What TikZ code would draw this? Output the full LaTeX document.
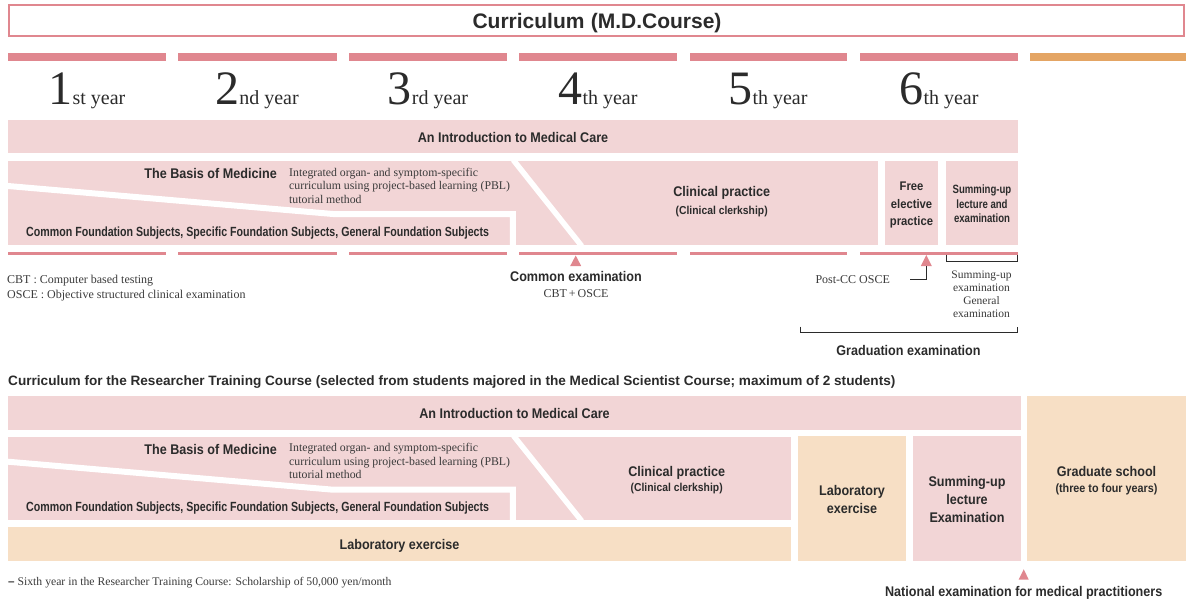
\documentclass[tikz,border=0pt]{standalone}
\usepackage{fontspec}
\setmainfont{Liberation Serif}
\newfontfamily\hn[FakeStretch=0.9]{Liberation Sans}
\newfontfamily\hnc[FakeStretch=0.8]{Liberation Sans}
\newfontfamily\hw{Liberation Sans}
\definecolor{pbar}{HTML}{E0878F}
\definecolor{lpink}{HTML}{F2D5D6}
\definecolor{obar}{HTML}{E4A564}
\definecolor{lorange}{HTML}{F7DFC5}
\definecolor{ink}{HTML}{2B2B2B}
\definecolor{sink}{HTML}{3A3A3A}
\newcommand\rbox[6]{\node[#6,anchor=north west,inner sep=0pt,outer sep=0pt,minimum width={(#4-#2)*1pt},minimum height={(#5-#3)*1pt}] (#1) at (#2,#3) {};}
\tikzset{
  sb/.style={font=\hn\bfseries\fontsize{14}{18}\selectfont, text=ink, inner sep=0pt},
  ssub/.style={font=\hn\bfseries\fontsize{11.5}{13}\selectfont, text=ink, inner sep=0pt},
  sbc/.style={font=\hnc\bfseries\fontsize{13.3}{15}\selectfont, text=ink, inner sep=0pt},
  sfree/.style={font=\hn\bfseries\fontsize{12.5}{17.7}\selectfont, text=ink, inner sep=0pt},
  sumc/.style={font=\hnc\bfseries\fontsize{12}{14.7}\selectfont, text=ink, inner sep=0pt},
  sr/.style={font=\rmfamily\fontsize{12}{15}\selectfont, text=sink, inner sep=0pt},
  srs/.style={font=\rmfamily\fontsize{11.5}{13.3}\selectfont, text=sink, inner sep=0pt},
  sint/.style={font=\rmfamily\fontsize{11.8}{13.5}\selectfont, text=sink, inner sep=0pt},
  yearlab/.style={font=\rmfamily, text=ink, inner sep=0pt, anchor=base},
  gap/.style={white, line width=6pt, line join=miter},
  slant/.style={white, line width=5.5pt},
  tri/.style={fill=pbar},
  conn/.style={draw=ink, line width=0.9pt},
}
\begin{document}
\begin{tikzpicture}[x=1pt,y=-1pt]
\useasboundingbox (0,0) rectangle (1186,603);
% title
\rbox{titlebox}{9.1}{5.1}{1184}{35.6}{draw=pbar,line width=2.2pt,fill=white}
\node[font=\hw\bfseries\fontsize{21}{24}\selectfont, text=ink, inner sep=0pt, anchor=base] (title) at (597,28) {Curriculum\hspace{0.3em}(M.D.Course)};
% year bars
\foreach \i/\a/\b in {1/8/166,2/178/337,3/349/507,4/519/677,5/690/847,6/860/1018} {\rbox{bar\i}{\a}{52.7}{\b}{61}{fill=pbar}}
\rbox{bar7}{1030}{52.7}{1186}{61}{fill=obar}
\foreach \i/\c/\d/\s in {1/87/1/st,2/257/2/nd,3/428/3/rd,4/598/4/th,5/768/5/th,6/939/6/th} {
  \node[yearlab] (year\i) at (\c,104.5) {{\fontsize{48}{48}\selectfont \d}{\fontsize{20}{20}\selectfont \s\ year}};
}
% ---------- upper curriculum ----------
\rbox{intro}{8}{120}{1018}{153.3}{fill=lpink}
\node[sb,anchor=base] (introT) at (513,142) {An Introduction to Medical Care};
\rbox{row}{8}{161}{877.7}{245}{fill=lpink}
\draw[slant] (513.3,160) -- (581.7,246);
\draw[gap] (8,186) -- (333,214) -- (512.8,214) -- (512.8,246);
\node[sb,anchor=base east] (basis) at (277,178.5) {The Basis of Medicine};
\node[sint,anchor=base west,align=left] (integ) at (289,203) {Integrated organ- and symptom-specific\\curriculum using project-based learning (PBL)\\tutorial method};
\node[sbc,anchor=base west] (found) at (26,236) {Common Foundation Subjects, Specific Foundation Subjects, General Foundation Subjects};
\node[sb,anchor=base] (clin) at (721.7,196.5) {Clinical practice};
\node[ssub,anchor=base] (clerk) at (721.7,214) {(Clinical clerkship)};
\rbox{free}{885}{161}{938}{245}{fill=lpink}
\node[sfree,anchor=base,align=center] (freeT) at (911.5,225.9) {Free\\elective\\practice};
\rbox{sum}{946}{161}{1018}{245}{fill=lpink}
\node[sumc,anchor=base,align=center] (sumT) at (982,222.7) {Summing-up\\lecture and\\examination};
% thin lines
\foreach \i/\a/\b in {1/8/166,2/178/337,3/349/507,4/519/677,5/690/847,6/860/1018} {\rbox{tl\i}{\a}{252}{\b}{254.6}{fill=pbar}}
% common examination
\fill[tri] (575.7,255.5) -- (570.2,266) -- (581.2,266) -- cycle;
\node[sb,anchor=base] (cexam) at (576,281.7) {Common examination};
\node[sr,anchor=base] (cbt) at (576,297.5) {CBT\,+\,OSCE};
% post-CC OSCE
\fill[tri] (926.3,255) -- (920.8,266) -- (931.8,266) -- cycle;
\coordinate (pcb) at (926.3,266);
\coordinate (pce) at (910,279.3);
\draw[conn] (pcb) |- (pce);
\node[sr,anchor=base] (postcc) at (852.7,283) {Post-CC OSCE};
% summing-up bracket
\coordinate (brL) at (946.3,254.5);
\coordinate (brR) at (1017.3,254.5);
\draw[conn] (brL) -- ++(0,6.5) -| (brR);
\node[srs,anchor=base,align=center] (sumexam) at (981.5,317.9) {Summing-up\\examination\\General\\examination};
% graduation bracket
\coordinate (gL) at (800,326.7);
\coordinate (gR) at (1017.3,326.7);
\draw[conn] (gL) -- ++(0,6) -| (gR);
\node[sb,anchor=base] (grad) at (908.5,355.7) {Graduation examination};
% legend
\node[sr,anchor=base west,align=left] (legend) at (7,298) {CBT : Computer based testing\\OSCE : Objective structured clinical examination};
% ---------- researcher training course ----------
\node[font=\hw\bfseries\fontsize{13.6}{15}\selectfont, text=ink, inner sep=0pt, anchor=base west] (rtc) at (8,385.5) {Curriculum for the Researcher Training Course (selected from students majored in the Medical Scientist Course; maximum of 2 students)};
\rbox{intro2}{8}{396}{1021}{430}{fill=lpink}
\node[sb,anchor=base] (introT2) at (514.5,418) {An Introduction to Medical Care};
\rbox{row2}{8}{436.7}{791}{520}{fill=lpink}
\draw[slant] (513.5,435.7) -- (581.7,521);
\draw[gap] (8,461.7) -- (333,489.7) -- (512.8,489.7) -- (512.8,521);
\node[sb,anchor=base east] (basis2) at (277,454) {The Basis of Medicine};
\node[sint,anchor=base west,align=left] (integ2) at (289,478.7) {Integrated organ- and symptom-specific\\curriculum using project-based learning (PBL)\\tutorial method};
\node[sbc,anchor=base west] (found2) at (26,511.7) {Common Foundation Subjects, Specific Foundation Subjects, General Foundation Subjects};
\node[sb,anchor=base] (clin2) at (676.7,476) {Clinical practice};
\node[ssub,anchor=base] (clerk2) at (676.7,491.5) {(Clinical clerkship)};
\rbox{lab2}{8}{527}{791}{561}{fill=lorange}
\node[sb,anchor=base] (labT) at (399.5,549) {Laboratory exercise};
\rbox{labbox}{798}{436}{906}{561}{fill=lorange}
\node[sb,anchor=base,align=center] (labboxT) at (852,513.3) {Laboratory\\exercise};
\rbox{sum2}{913}{436}{1021}{561}{fill=lpink}
\node[sb,anchor=base,align=center] (sum2T) at (967,522) {Summing-up\\lecture\\Examination};
\rbox{gs}{1027}{396}{1186}{561}{fill=lorange}
\node[sb,anchor=base] (gsT) at (1106.5,476) {Graduate school};
\node[font=\hn\bfseries\fontsize{12}{14}\selectfont, text=ink, inner sep=0pt, anchor=base] (gsT2) at (1106.5,492) {(three to four years)};
\fill[tri] (1023.7,569.3) -- (1018.7,579.5) -- (1028.7,579.5) -- cycle;
\node[sb,anchor=base] (natl) at (1023.7,596) {National examination for medical practitioners};
\node[font=\rmfamily\fontsize{11.7}{14}\selectfont, text=sink, inner sep=0pt, anchor=base west] (note) at (8,585.5) {{\hw\bfseries –} Sixth year in the Researcher Training Course: Scholarship of 50,000 yen/month};
\end{tikzpicture}
\end{document}
